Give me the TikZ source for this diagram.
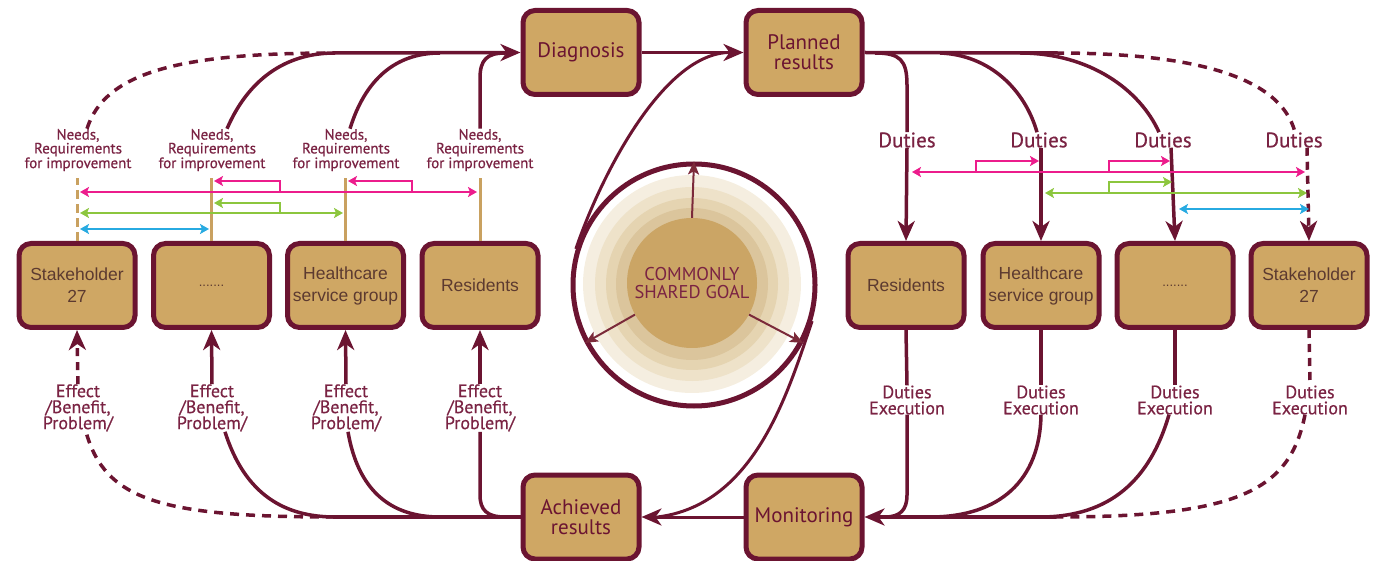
\documentclass[tikz,border=0pt]{standalone}
\usepackage{fontspec}
\setmainfont{PT Sans}
\newfontfamily\boxfont{Liberation Sans}
\newfontfamily\labelfont{PT Sans}[FakeBold=0.5]
\usetikzlibrary{arrows.meta}

\definecolor{wine}{HTML}{6B1431}
\definecolor{winetext}{HTML}{7A2343}
\definecolor{boxtan}{HTML}{CFA764}
\definecolor{tanline}{HTML}{C9A160}
\definecolor{boxtext}{HTML}{5C3A30}
\definecolor{pinkline}{HTML}{EC1C8C}
\definecolor{greenline}{HTML}{8CC63E}
\definecolor{blueline}{HTML}{27AAE1}
\definecolor{glowA}{HTML}{F5EEE0}
\definecolor{glowB}{HTML}{EEE2C9}
\definecolor{glowC}{HTML}{E5D4B1}
\definecolor{glowD}{HTML}{DBC59C}
\definecolor{core}{HTML}{CBA565}
\definecolor{goalarrow}{HTML}{7B2A3A}

\tikzset{
  bigtip/.tip={Stealth[length=20pt,width=17pt,inset=6pt]},
  smalltip/.tip={Stealth[length=13pt,width=11pt,inset=3pt]},
  ctip/.tip={Stealth[length=9pt,width=10pt,inset=2pt]},
  stage/.style={draw=wine, line width=5pt, fill=boxtan, rounded corners=12pt,
    minimum width=116pt, minimum height=84pt, inner sep=0pt, align=center,
    text=wine, font=\fontsize{21}{20}\selectfont},
  member/.style={stage, text=boxtext, font=\boxfont\fontsize{17.5}{22}\selectfont},
  flow/.style={draw=wine, line width=3.5pt},
  thinflow/.style={draw=wine, line width=3pt},
  dashflow/.style={flow, dash pattern=on 9pt off 7pt},
  needs/.style={text=winetext, align=center, inner sep=0pt,
    font=\labelfont\fontsize{15}{12.5}\selectfont},
  effect/.style={text=winetext, align=center, inner sep=0pt,
    font=\labelfont\fontsize{18}{16}\selectfont},
  duty/.style={text=winetext, align=center, inner sep=0pt,
    font=\labelfont\fontsize{21}{20}\selectfont},
  tanl/.style={draw=tanline, line width=3pt},
  pinkarr/.style={draw=pinkline, line width=2pt},
  greenarr/.style={draw=greenline, line width=2pt},
  bluearr/.style={draw=blueline, line width=2pt},
  goalarr/.style={draw=goalarrow, line width=2pt, -{smalltip}},
}

\begin{document}
\begin{tikzpicture}[x=1pt, y=-1pt]
\useasboundingbox (0,0) rectangle (1382,561);

% ---------- central goal ----------
\fill[glowA] (692,284) circle (109pt);
\fill[glowB] (692,284) circle (97pt);
\fill[glowC] (692,284) circle (86pt);
\fill[glowD] (692,284) circle (76pt);
\node[circle, fill=core, minimum size=130pt, inner sep=0pt, align=center,
      text=winetext, font=\fontsize{18.5}{17.5}\selectfont] (goal) at (692,283)
      {COMMONLY\\SHARED GOAL};
\node[circle, draw=wine, line width=5pt, minimum size=242pt, inner sep=0pt] (ring) at (694,285) {};
\draw[goalarr] (goal.90) -- (ring.90);
\draw[goalarr] (goal.209) -- (ring.208);
\draw[goalarr] (goal.331) -- (ring.332);

% ---------- cycle stages ----------
\node[stage] (diag) at (581,52.5) {Diagnosis};
\node[stage] (planned) at (804,52.5) {Planned\\results};
\node[stage] (achieved) at (581,517) {Achieved\\results};
\node[stage] (monitor) at (804,517) {Monitoring};

\draw[thinflow, -{bigtip}] (diag.east) -- (planned.west);
\draw[thinflow, -{bigtip}] (monitor.west) -- (achieved.east);
\draw[thinflow] (ring.163) .. controls (598,183) and (660,56) .. ([xshift=-16pt]planned.west);
\draw[thinflow] (ring.343) .. controls (788,392) and (755,505) .. ([xshift=16pt]achieved.east);

% ---------- left group ----------
\node[member] (l1) at (77,285.5) {Stakeholder\\27};
\node[member] (l2) at (211.5,285.5) {\fontsize{13}{13}\selectfont .......};
\node[member] (l3) at (345.5,285.5) {Healthcare\\service group};
\node[member] (l4) at (480,285.5) {Residents};

\foreach \i/\x in {1/78,2/212,3/346,4/480}{
  \node[needs] (nd\i) at (\x,150) {Needs,\\Requirements\\for improvement};
  \node[effect] (ef\i) at (\x,408) {Effect\\/Benefit,\\Problem/};
}

% needs towards diagnosis
\coordinate (jL) at (335,53);
\coordinate (jL3) at (440,53);
\coordinate (jL4) at (505,53);
\draw[flow, -{bigtip}] (jL) -- (diag.west);
\draw[dashflow] ([xshift=9pt]nd1.north) .. controls (105,72) and (180,53) .. (jL);
\draw[flow] ([xshift=15pt]nd2.north) .. controls (248,80) and (285,53) .. (jL);
\draw[flow] ([xshift=4pt]nd3.north) .. controls (365,80) and (395,53) .. (jL3);
\draw[flow] (nd4.north) -- (480,78) .. controls (480,60) and (487,53) .. (jL4);

% needs markers above the boxes
\draw[tanl, dash pattern=on 9pt off 5pt] (l1.north) -- ++(0,-63);
\draw[tanl] (l2.north) -- ++(0,-63);
\draw[tanl] (l3.north) -- ++(0,-63);
\draw[tanl] (l4.north) -- ++(0,-63);

\draw[pinkarr, {ctip}-{ctip}] (80,192) -- (477,192);
\draw[pinkarr, -{ctip}] (280,192) -- (280,181) -- (214,181);
\draw[pinkarr, -{ctip}] (412,192) -- (412,181) -- (348,181);
\draw[greenarr, {ctip}-{ctip}] (80,213) -- (343,213);
\draw[greenarr, -{ctip}] (280,213) -- (280,203) -- (214,203);
\draw[bluearr, {ctip}-{ctip}] (80,229) -- (209,229);

% effects from achieved results
\coordinate (jB) at (335,517);
\coordinate (jB3) at (440,517);
\coordinate (jB4) at (505,517);
\draw[flow] (achieved.west) -- (jB);
\draw[dashflow] (jB) .. controls (160,517) and (105,500) .. ([xshift=8pt]ef1.south);
\draw[flow] ([xshift=13pt]ef2.south) .. controls (245,495) and (285,517) .. (jB);
\draw[flow] ([xshift=2pt]ef3.south) .. controls (358,490) and (390,517) .. (jB3);
\draw[flow] (ef4.south) -- (480,495) .. controls (480,510) and (487,517) .. (jB4);

\draw[dashflow, dash pattern=on 8pt off 6pt, -{bigtip}] (ef1.north) -- (l1.south);
\draw[flow, -{bigtip}] (ef2.north) -- (l2.south);
\draw[flow, -{bigtip}] (ef3.north) -- (l3.south);
\draw[flow, -{bigtip}] (ef4.north) -- (l4.south);

% ---------- right group ----------
\node[member] (r1) at (906,285.5) {Residents};
\node[member] (r2) at (1041,285.5) {Healthcare\\service group};
\node[member] (r3) at (1175,285.5) {\fontsize{13}{13}\selectfont .......};
\node[member] (r4) at (1309,285.5) {Stakeholder\\27};

\node[duty] (du1) at (907,140) {Duties};
\node[duty] (du2) at (1039,140) {Duties};
\node[duty] (du3) at (1163,140) {Duties};
\node[duty] (du4) at (1294,140) {Duties};

\foreach \i/\x in {1/907,2/1041,3/1175,4/1310}{
  \node[effect] (ex\i) at (\x,400) {Duties\\Execution};
}

% duties from planned results
\coordinate (jR) at (1055,53);
\coordinate (jR1) at (875,53);
\coordinate (jR2) at (940,53);
\coordinate (jR3) at (1020,53);
\draw[flow] (planned.east) -- (jR);
\draw[dashflow] (jR) .. controls (1190,53) and (1280,75) .. ([xshift=1pt]du4.north);
\draw[flow] (jR1) .. controls (900,53) and (907,60) .. (907,85) -- (du1.north);
\draw[flow] (jR2) .. controls (990,55) and (1025,90) .. ([xshift=-2pt]du2.north);
\draw[flow] (jR3) .. controls (1090,53) and (1140,90) .. ([xshift=-4pt]du3.north);

\draw[flow, -{bigtip}] (du1.south) -- (r1.north);
\draw[flow, -{bigtip}] (du2.south -| r2.north) -- (r2.north);
\draw[flow, -{bigtip}] ([xshift=8pt]du3.south) -- (r3.north);
\draw[dashflow, dash pattern=on 8pt off 6pt, -{bigtip}] ([xshift=13pt]du4.south) -- (r4.north);

\draw[pinkarr, {ctip}-{ctip}] (912,172) -- (1305,172);
\draw[pinkarr, -{ctip}] (976,172) -- (976,161) -- (1039,161);
\draw[pinkarr, -{ctip}] (1109,172) -- (1109,161) -- (1170,161);
\draw[greenarr, {ctip}-{ctip}] (1045,193) -- (1307,193);
\draw[greenarr, -{ctip}] (1109,193) -- (1109,182) -- (1172,182);
\draw[bluearr, {ctip}-{ctip}] (1179,209) -- (1309,209);

% execution towards monitoring
\coordinate (jM) at (1055,517);
\coordinate (jM1) at (885,517);
\coordinate (jM2) at (930,517);
\coordinate (jM3) at (1040,517);
\draw[flow] (r1.south) -- (ex1.north);
\draw[flow] (r2.south) -- (ex2.north);
\draw[flow] (r3.south) -- (ex3.north);
\draw[dashflow, dash pattern=on 8pt off 6pt] (r4.south) -- (ex4.north);

\draw[flow, -{bigtip}] (jM) -- (monitor.east);
\draw[flow] (ex1.south) -- (907,495) .. controls (907,510) and (900,517) .. (jM1);
\draw[flow] (ex2.south) .. controls (1040,480) and (1000,517) .. (jM2);
\draw[flow] ([xshift=-6pt]ex3.south) .. controls (1150,480) and (1110,517) .. (jM3);
\draw[dashflow] ([xshift=-5pt]ex4.south) .. controls (1290,490) and (1240,517) .. (jM);
\end{tikzpicture}
\end{document}
